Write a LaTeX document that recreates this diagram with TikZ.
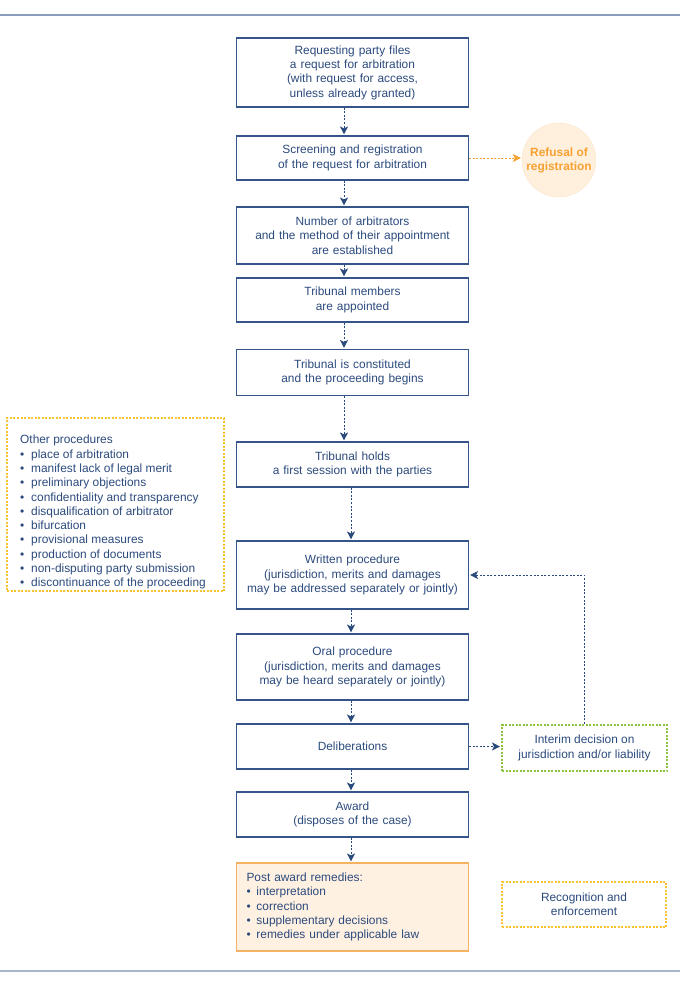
\documentclass[tikz,border=0pt]{standalone}
\usepackage{fontspec}
\setmainfont{Liberation Sans}
\usetikzlibrary{arrows.meta}
\definecolor{navy}{HTML}{2B4A7C}
\definecolor{boxline}{HTML}{35558A}
\definecolor{dotyellow}{HTML}{F8C230}
\definecolor{dotgreen}{HTML}{8CC43F}
\definecolor{postfill}{HTML}{FFF1E2}
\definecolor{postline}{HTML}{F5B263}
\definecolor{refusefill}{HTML}{FEF0DD}
\definecolor{refuseline}{HTML}{FCE4C6}
\definecolor{refusetext}{HTML}{F7A133}
\definecolor{ruletop}{HTML}{8A9DBB}
\definecolor{rulebot}{HTML}{A8B6CC}
\newcommand{\bulitem}[1][11pt]{\makebox[#1][l]{\textbullet}}

\begin{document}
\begin{tikzpicture}[x=1pt, y=-1pt,
    every node/.style={font=\fontsize{11.9}{14.3}\selectfont, text=navy},
    stepbox/.style={draw=boxline, line width=1.1pt, text width=222pt, inner xsep=5pt, align=center},
    dotbox/.style={line width=2pt, dash pattern=on 2pt off 1.5pt, align=center},
    flow/.style={draw=navy, line width=1pt, dash pattern=on 2pt off 1.6pt,
        -{Stealth[length=8pt,width=8pt,inset=2pt]}, shorten >=1pt}]
    \useasboundingbox (0,0) rectangle (680,989);
    % Rules at top and bottom
    \draw[ruletop, line width=2pt] (0,15) -- (680,15);
    \draw[rulebot, line width=2pt] (0,971) -- (680,971);

    % Main column
    \node (req) [stepbox, minimum height=69pt] at (352.5,72.5)
        {Requesting party files\\a request for arbitration\\(with request for access,\\unless already granted)};
    \node (screen) [stepbox, minimum height=44pt] at (352.5,158)
        {Screening and registration\\of the request for arbitration};
    \node (number) [stepbox, minimum height=57pt] at (352.5,235.5)
        {Number of arbitrators\\and the method of their appointment\\are established};
    \node (members) [stepbox, minimum height=44pt] at (352.5,300)
        {Tribunal members\\are appointed};
    \node (constit) [stepbox, minimum height=46pt] at (352.5,372.5)
        {Tribunal is constituted\\and the proceeding begins};
    \node (session) [stepbox, minimum height=45pt] at (352.5,464.5)
        {Tribunal holds\\a first session with the parties};
    \node (written) [stepbox, minimum height=68pt] at (352.5,575)
        {Written procedure\\(jurisdiction, merits and damages\\may be addressed separately or jointly)};
    \node (oral) [stepbox, minimum height=66pt] at (352.5,667)
        {Oral procedure\\(jurisdiction, merits and damages\\may be heard separately or jointly)};
    \node (delib) [stepbox, minimum height=45pt] at (352.5,746.5) {Deliberations};
    \node (award) [stepbox, minimum height=45pt] at (352.5,814.5)
        {Award\\(disposes of the case)};
    \node (post) [stepbox, draw=postline, fill=postfill, align=left, text width=212pt,
        inner xsep=10pt, minimum height=88pt] at (352.5,907)
        {Post award remedies:\\\bulitem[10pt]interpretation\\\bulitem[10pt]correction\\
         \bulitem[10pt]supplementary decisions\\\bulitem[10pt]remedies under applicable law};

    % Refusal
    \node (refusal) [circle, minimum size=74pt, fill=refusefill, draw=refuseline, text=refusetext,
        align=center, inner sep=0pt, font=\fontsize{11.9}{14}\selectfont\bfseries] at (559,160)
        {Refusal of\\registration};

    % Side boxes
    \node (othbox) [dotbox, draw=dotyellow, anchor=north west, minimum width=217pt,
        minimum height=173pt] at (6,417) {};
    \node (othtext) [anchor=north west, align=left, inner sep=0pt] at (20,435)
        {Other procedures\\\bulitem place of arbitration\\\bulitem manifest lack of legal merit\\
         \bulitem preliminary objections\\\bulitem confidentiality and transparency\\
         \bulitem disqualification of arbitrator\\\bulitem bifurcation\\
         \bulitem provisional measures\\\bulitem production of documents\\
         \bulitem non-disputing party submission\\\bulitem discontinuance of the proceeding};
    \node (interim) [dotbox, draw=dotgreen, minimum width=165pt, minimum height=46pt] at (584.5,748)
        {Interim decision on\\jurisdiction and/or liability};
    \node (recog) [dotbox, draw=dotyellow, minimum width=164pt, minimum height=45pt] at (584,904.5)
        {Recognition and\\enforcement};

    % Connectors
    \foreach \a/\b in {req/screen, screen/number, number/members, members/constit, constit/session}
        \draw[flow] ([xshift=-8.5pt]\a.south) -- ([xshift=-8.5pt]\b.north);
    \foreach \a/\b in {session/written, written/oral, oral/delib, delib/award, award/post}
        \draw[flow] ([xshift=-1.5pt]\a.south) -- ([xshift=-1.5pt]\b.north);
    \draw[flow, draw=refusetext, -{Stealth[length=8pt,width=8pt,inset=2pt,fill=refusetext]}]
        (screen.east) -- (screen.east -| refusal.west);
    \draw[flow] (delib.east) -- (delib.east -| interim.west);
    \draw[flow] (interim.north) |- (written.east);
\end{tikzpicture}
\end{document}
